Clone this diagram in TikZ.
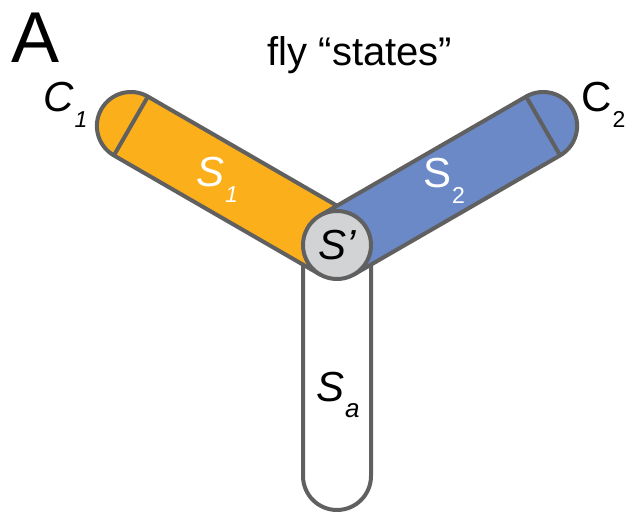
\documentclass[tikz,border=0pt]{standalone}
\usepackage{fontspec}
\setmainfont{Liberation Sans}
\usetikzlibrary{positioning}
\definecolor{flyorange}{RGB}{251,176,27}
\definecolor{flyblue}{RGB}{106,137,198}
\definecolor{hubgrey}{RGB}{209,211,212}
\definecolor{edgegrey}{RGB}{96,96,96}
\newcommand{\lowidx}[2][23]{\kern1pt\raisebox{-16pt}{\fontsize{#1}{#1}\selectfont #2}}

\begin{document}
\begin{tikzpicture}[x=1pt, y=1pt,
      arm/.style={draw=edgegrey, line width=4pt, line join=round},
      capline/.style={draw=edgegrey, line width=4pt},
      hub/.style={circle, draw=edgegrey, fill=hubgrey, line width=4pt,
                  minimum size=68pt, inner sep=0pt,
                  font=\fontsize{42}{42}\selectfont\itshape},
      lbl/.style={inner sep=0pt, anchor=base west,
                  font=\fontsize{42}{42}\selectfont\itshape},
      lblup/.style={lbl, font=\fontsize{42}{42}\selectfont\upshape}
    ]
    \useasboundingbox (0,0) rectangle (637,513);
    \coordinate (O) at (337,268);

    % arm S_a
    \draw[arm, fill=white] ([xshift=-34pt]O) -- ++(0,-231) arc(180:360:34)
      -- ([xshift=34pt]O) -- cycle;

    % arm S_1 with cap C_1
    \begin{scope}[shift={(O)}, rotate=150]
      \draw[arm, fill=flyorange] (0,-34) -- (238,-34) arc(-90:90:34) -- (0,34) -- cycle;
      \draw[capline] (238,-34) -- (238,34);
    \end{scope}

    % arm S_2 with cap C_2
    \begin{scope}[shift={(O)}, rotate=30]
      \draw[arm, fill=flyblue] (0,-34) -- (238,-34) arc(-90:90:34) -- (0,34) -- cycle;
      \draw[capline] (238,-34) -- (238,34);
    \end{scope}

    \node[hub] (sp) at (O) {S’};

    \node[anchor=base, inner sep=0pt, font=\fontsize{72}{72}\selectfont] (panel) at (36,450) {A};
    \node[anchor=base, inner sep=0pt, font=\fontsize{40}{40}\selectfont] (title) at (360,447) {fly “states”};

    \node[lbl] (c1) at (43,401) {C\lowidx{1}};
    \node[lblup] (c2) at (581,401) {C\lowidx{2}};
    \node[lbl, text=white] (s1) at (196,326) {S\lowidx{1}};
    \node[lblup, text=white] (s2) at (423,325) {S\lowidx{2}};
    \node[lbl] (sa) at (316,111) {S\lowidx[26]{a}};
  \end{tikzpicture}
\end{document}
